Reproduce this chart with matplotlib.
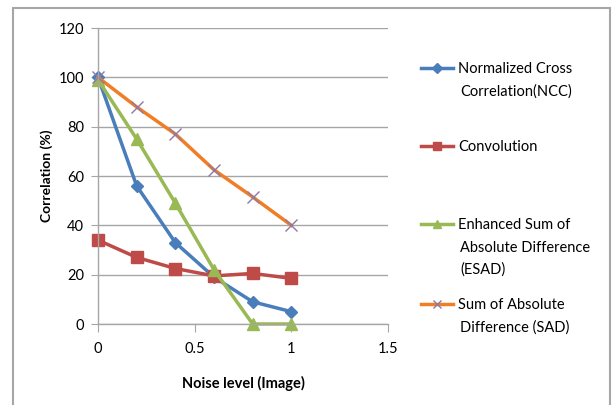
import numpy as np
import matplotlib.pyplot as plt
from matplotlib.patches import Rectangle

plt.rcParams['font.family'] = ['Lato', 'DejaVu Sans']

noise = [0, 0.2, 0.4, 0.6, 0.8, 1.0]
ncc = [100, 56, 33, 19, 9, 5]
conv = [34, 27, 22.5, 19.5, 20.5, 18.5]
esad = [99, 75, 49, 22, 0, 0]
sad = [100, 88, 77, 62.5, 51.5, 40]

labels = ['Normalized Cross\nCorrelation(NCC)', 'Convolution',
          'Enhanced Sum of\nAbsolute Difference\n(ESAD)',
          'Sum of Absolute\nDifference (SAD)']

W, H = 612, 405
fig = plt.figure(figsize=(W / 100, H / 100), dpi=100)
ax = fig.add_axes([98 / W, 1 - 324 / H, (388 - 98) / W, (324 - 28) / H])

# outer frame of the chart area
fig.add_artist(Rectangle((13 / W, -0.05), (610 - 13) / W, 1.05 - 8 / H,
                         transform=fig.transFigure, fill=False,
                         edgecolor='#A6A6A6', lw=1.5))

l1, = ax.plot(noise, ncc, color='#4A7EBB', lw=2.5, marker='D', ms=6)
l2, = ax.plot(noise, conv, color='#BE4B48', lw=2.5, marker='s', ms=8)
l3, = ax.plot(noise, esad, color='#98B954', lw=2.5, marker='^', ms=8)
l4, = ax.plot(noise, sad, color='#F07E26', lw=2.5, marker='x', ms=8,
              mec='#8C79A8', mew=1)
for l in (l1, l2, l3, l4):
    l.set_clip_on(False)

ax.set_xlim(0, 1.5)
ax.set_ylim(0, 120)
ax.set_xticks([0, 0.5, 1, 1.5])
ax.set_xticklabels(['0', '0.5', '1', '1.5'])
ax.set_yticks(range(0, 121, 20))
ax.grid(axis='y', color='#A6A6A6', lw=1)
ax.set_axisbelow(True)
for s in ['top', 'right']:
    ax.spines[s].set_visible(False)
for s in ['left', 'bottom']:
    ax.spines[s].set_color('#A6A6A6')
    ax.spines[s].set_linewidth(1)
ax.tick_params(axis='y', length=5, color='#A6A6A6', labelsize=10.5, pad=5)
ax.tick_params(axis='x', length=6, color='#A6A6A6', labelsize=10.5, pad=7)
ax.set_xlabel('Noise level (Image)', fontsize=10.5, fontweight='bold', labelpad=14)
ax.set_ylabel('Correlation (%)', fontsize=10, fontweight='bold', labelpad=4)

# legend: handle sits on the first line of each label, like the reference
ys = [69, 147, 225, 305]
step = 22.5
for line, lab, y in zip((l1, l2, l3, l4), labels, ys):
    parts = lab.split('\n')
    leg = fig.legend([line], [parts[0]], loc='center left',
                     bbox_to_anchor=(421 / W, 1 - y / H), frameon=False,
                     fontsize=10.5, handlelength=2.2, handletextpad=0.35,
                     borderpad=0, borderaxespad=0, markerscale=0.8)
    for i, p in enumerate(parts[1:], 1):
        fig.text(460 / W, 1 - (y + i * step) / H, p, fontsize=10.5,
                 va='center', ha='left')

fig.savefig('out.png', dpi=100)
